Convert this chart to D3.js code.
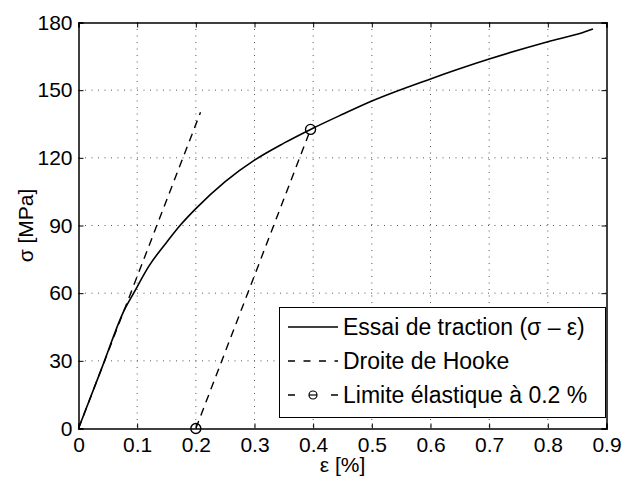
<!DOCTYPE html>
<html>
<head>
<meta charset="utf-8">
<script src="https://cdn.jsdelivr.net/npm/d3@7"></script>
<style>
  html, body { margin: 0; padding: 0; background: #fff; }
  svg { display: block; font-family: "Liberation Sans", Arial, Helvetica, sans-serif; }
</style>
</head>
<body>
<svg id="chart" width="623" height="479"></svg>
<script>
// Tensile test curve: strain (%) and stress (MPa)
const strain = [0, 0.040, 0.078, 0.094, 0.120, 0.150, 0.173, 0.200, 0.250, 0.300, 0.350, 0.3955, 0.450, 0.500, 0.600, 0.700, 0.800, 0.860, 0.877];
const stress = [0, 27.0, 52.5, 60.0, 72.0, 82.5, 90.0, 97.5, 109.5, 119.0, 126.5, 132.6, 139.3, 145.2, 155.0, 163.8, 171.5, 175.6, 177.1];

// Hooke's law line through the origin, and the same line offset by 0.2 %
const hookeStrain = [0, 0.208];
const hookeStress = [0, 140.2];
const offsetStrain = [0.2, 0.3955];
const offsetStress = [0, 132.6];

// Markers of the 0.2 % offset construction
const markerStrain = [0.2, 0.3955];
const markerStress = [0, 132.6];

const xTicks = [0, 0.1, 0.2, 0.3, 0.4, 0.5, 0.6, 0.7, 0.8, 0.9];
const yTicks = [0, 30, 60, 90, 120, 150, 180];

const legendLabels = ["Essai de traction (\u03C3 \u2013 \u03B5)", "Droite de Hooke", "Limite \u00E9lastique \u00E0 0.2 %"];
const xLabel = "\u03B5 [%]";
const yLabel = "\u03C3 [MPa]";

const svg = d3.select("#chart");
const plotLeft = 78.5, plotRight = 606.5, plotTop = 22.5, plotBottom = 428.5;

const x = d3.scaleLinear().domain([0, 0.9]).range([plotLeft, plotRight]);
const y = d3.scaleLinear().domain([0, 180]).range([plotBottom, plotTop]);

const fontSize = 21;
const legendFont = 23;

// Dotted grid
const grid = svg.append("g");
grid.selectAll("line.gx").data(xTicks.slice(1, -1)).join("line")
  .attr("x1", d => x(d)).attr("x2", d => x(d))
  .attr("y1", plotTop).attr("y2", plotBottom)
  .attr("stroke", "#555").attr("stroke-width", 1).attr("stroke-dasharray", "1,5.5");
grid.selectAll("line.gy").data(yTicks.slice(1, -1)).join("line")
  .attr("x1", plotLeft).attr("x2", plotRight)
  .attr("y1", d => y(d)).attr("y2", d => y(d))
  .attr("stroke", "#555").attr("stroke-width", 1).attr("stroke-dasharray", "1,5.5");

// Axes with inward ticks on all four sides
const tickLen = 5;
const axB = svg.append("g").attr("transform", `translate(0,${plotBottom})`)
  .call(d3.axisBottom(x).tickValues(xTicks).tickSize(-tickLen).tickPadding(9).tickFormat(d3.format("~g")));
const axT = svg.append("g").attr("transform", `translate(0,${plotTop})`)
  .call(d3.axisTop(x).tickValues(xTicks).tickSize(-tickLen).tickFormat(""));
const axL = svg.append("g").attr("transform", `translate(${plotLeft},0)`)
  .call(d3.axisLeft(y).tickValues(yTicks).tickSize(-tickLen).tickPadding(6).tickFormat(d3.format("d")));
const axR = svg.append("g").attr("transform", `translate(${plotRight},0)`)
  .call(d3.axisRight(y).tickValues(yTicks).tickSize(-tickLen).tickFormat(""));

[axB, axT, axL, axR].forEach(a => {
  a.select(".domain").attr("stroke", "#000").attr("stroke-width", 1.5);
  a.selectAll(".tick line").attr("stroke", "#000").attr("stroke-width", 1);
  a.selectAll("text").attr("font-size", fontSize).attr("fill", "#000")
    .attr("font-family", "Liberation Sans, Arial, sans-serif");
});

// Curves
const line = d3.line().x(d => x(d[0])).y(d => y(d[1]));
const dash = "8,6";

svg.append("path").datum(d3.zip(hookeStrain, hookeStress))
  .attr("d", line).attr("fill", "none").attr("stroke", "#000")
  .attr("stroke-width", 1.4).attr("stroke-dasharray", dash);
svg.append("path").datum(d3.zip(offsetStrain, offsetStress))
  .attr("d", line).attr("fill", "none").attr("stroke", "#000")
  .attr("stroke-width", 1.4).attr("stroke-dasharray", dash);
svg.append("path").datum(d3.zip(strain, stress))
  .attr("d", d3.line().x(d => x(d[0])).y(d => y(d[1])).curve(d3.curveMonotoneX))
  .attr("fill", "none").attr("stroke", "#000").attr("stroke-width", 1.6);

svg.selectAll("circle.mk").data(d3.zip(markerStrain, markerStress)).join("circle")
  .attr("cx", d => x(d[0])).attr("cy", d => y(d[1])).attr("r", 5)
  .attr("fill", "none").attr("stroke", "#000").attr("stroke-width", 1.4);

// Axis titles
svg.append("text").attr("x", (plotLeft + plotRight) / 2).attr("y", 472)
  .attr("text-anchor", "middle").attr("font-size", fontSize).text(xLabel);
svg.append("text").attr("transform", `translate(33,${(plotTop + plotBottom) / 2}) rotate(-90)`)
  .attr("text-anchor", "middle").attr("font-size", fontSize).text(yLabel);

// Legend
const lg = svg.append("g");
lg.append("rect").attr("x", 279.5).attr("y", 307.5).attr("width", 326).attr("height", 110)
  .attr("fill", "#fff").attr("stroke", "#000").attr("stroke-width", 1);
const rowY = [327, 361, 395];
const sx0 = 288, sx1 = 338;
lg.append("line").attr("x1", sx0).attr("x2", sx1).attr("y1", rowY[0]).attr("y2", rowY[0])
  .attr("stroke", "#000").attr("stroke-width", 1.6);
lg.append("line").attr("x1", sx0).attr("x2", sx1).attr("y1", rowY[1]).attr("y2", rowY[1])
  .attr("stroke", "#000").attr("stroke-width", 1.4).attr("stroke-dasharray", "7,8.5");
lg.append("line").attr("x1", sx0).attr("x2", sx1).attr("y1", rowY[2]).attr("y2", rowY[2])
  .attr("stroke", "#000").attr("stroke-width", 1.4).attr("stroke-dasharray", "7,36,7");
lg.append("circle").attr("cx", (sx0 + sx1) / 2).attr("cy", rowY[2]).attr("r", 4)
  .attr("fill", "none").attr("stroke", "#000").attr("stroke-width", 1.2);
lg.append("line").attr("x1", (sx0 + sx1) / 2 - 4).attr("x2", (sx0 + sx1) / 2 + 4)
  .attr("y1", rowY[2]).attr("y2", rowY[2]).attr("stroke", "#000").attr("stroke-width", 1.2);
lg.selectAll("text.lt").data(legendLabels).join("text")
  .attr("x", 343).attr("y", (d, i) => rowY[i]).attr("dy", "0.36em")
  .attr("font-size", legendFont).attr("fill", "#000").text(d => d);
</script>
</body>
</html>
